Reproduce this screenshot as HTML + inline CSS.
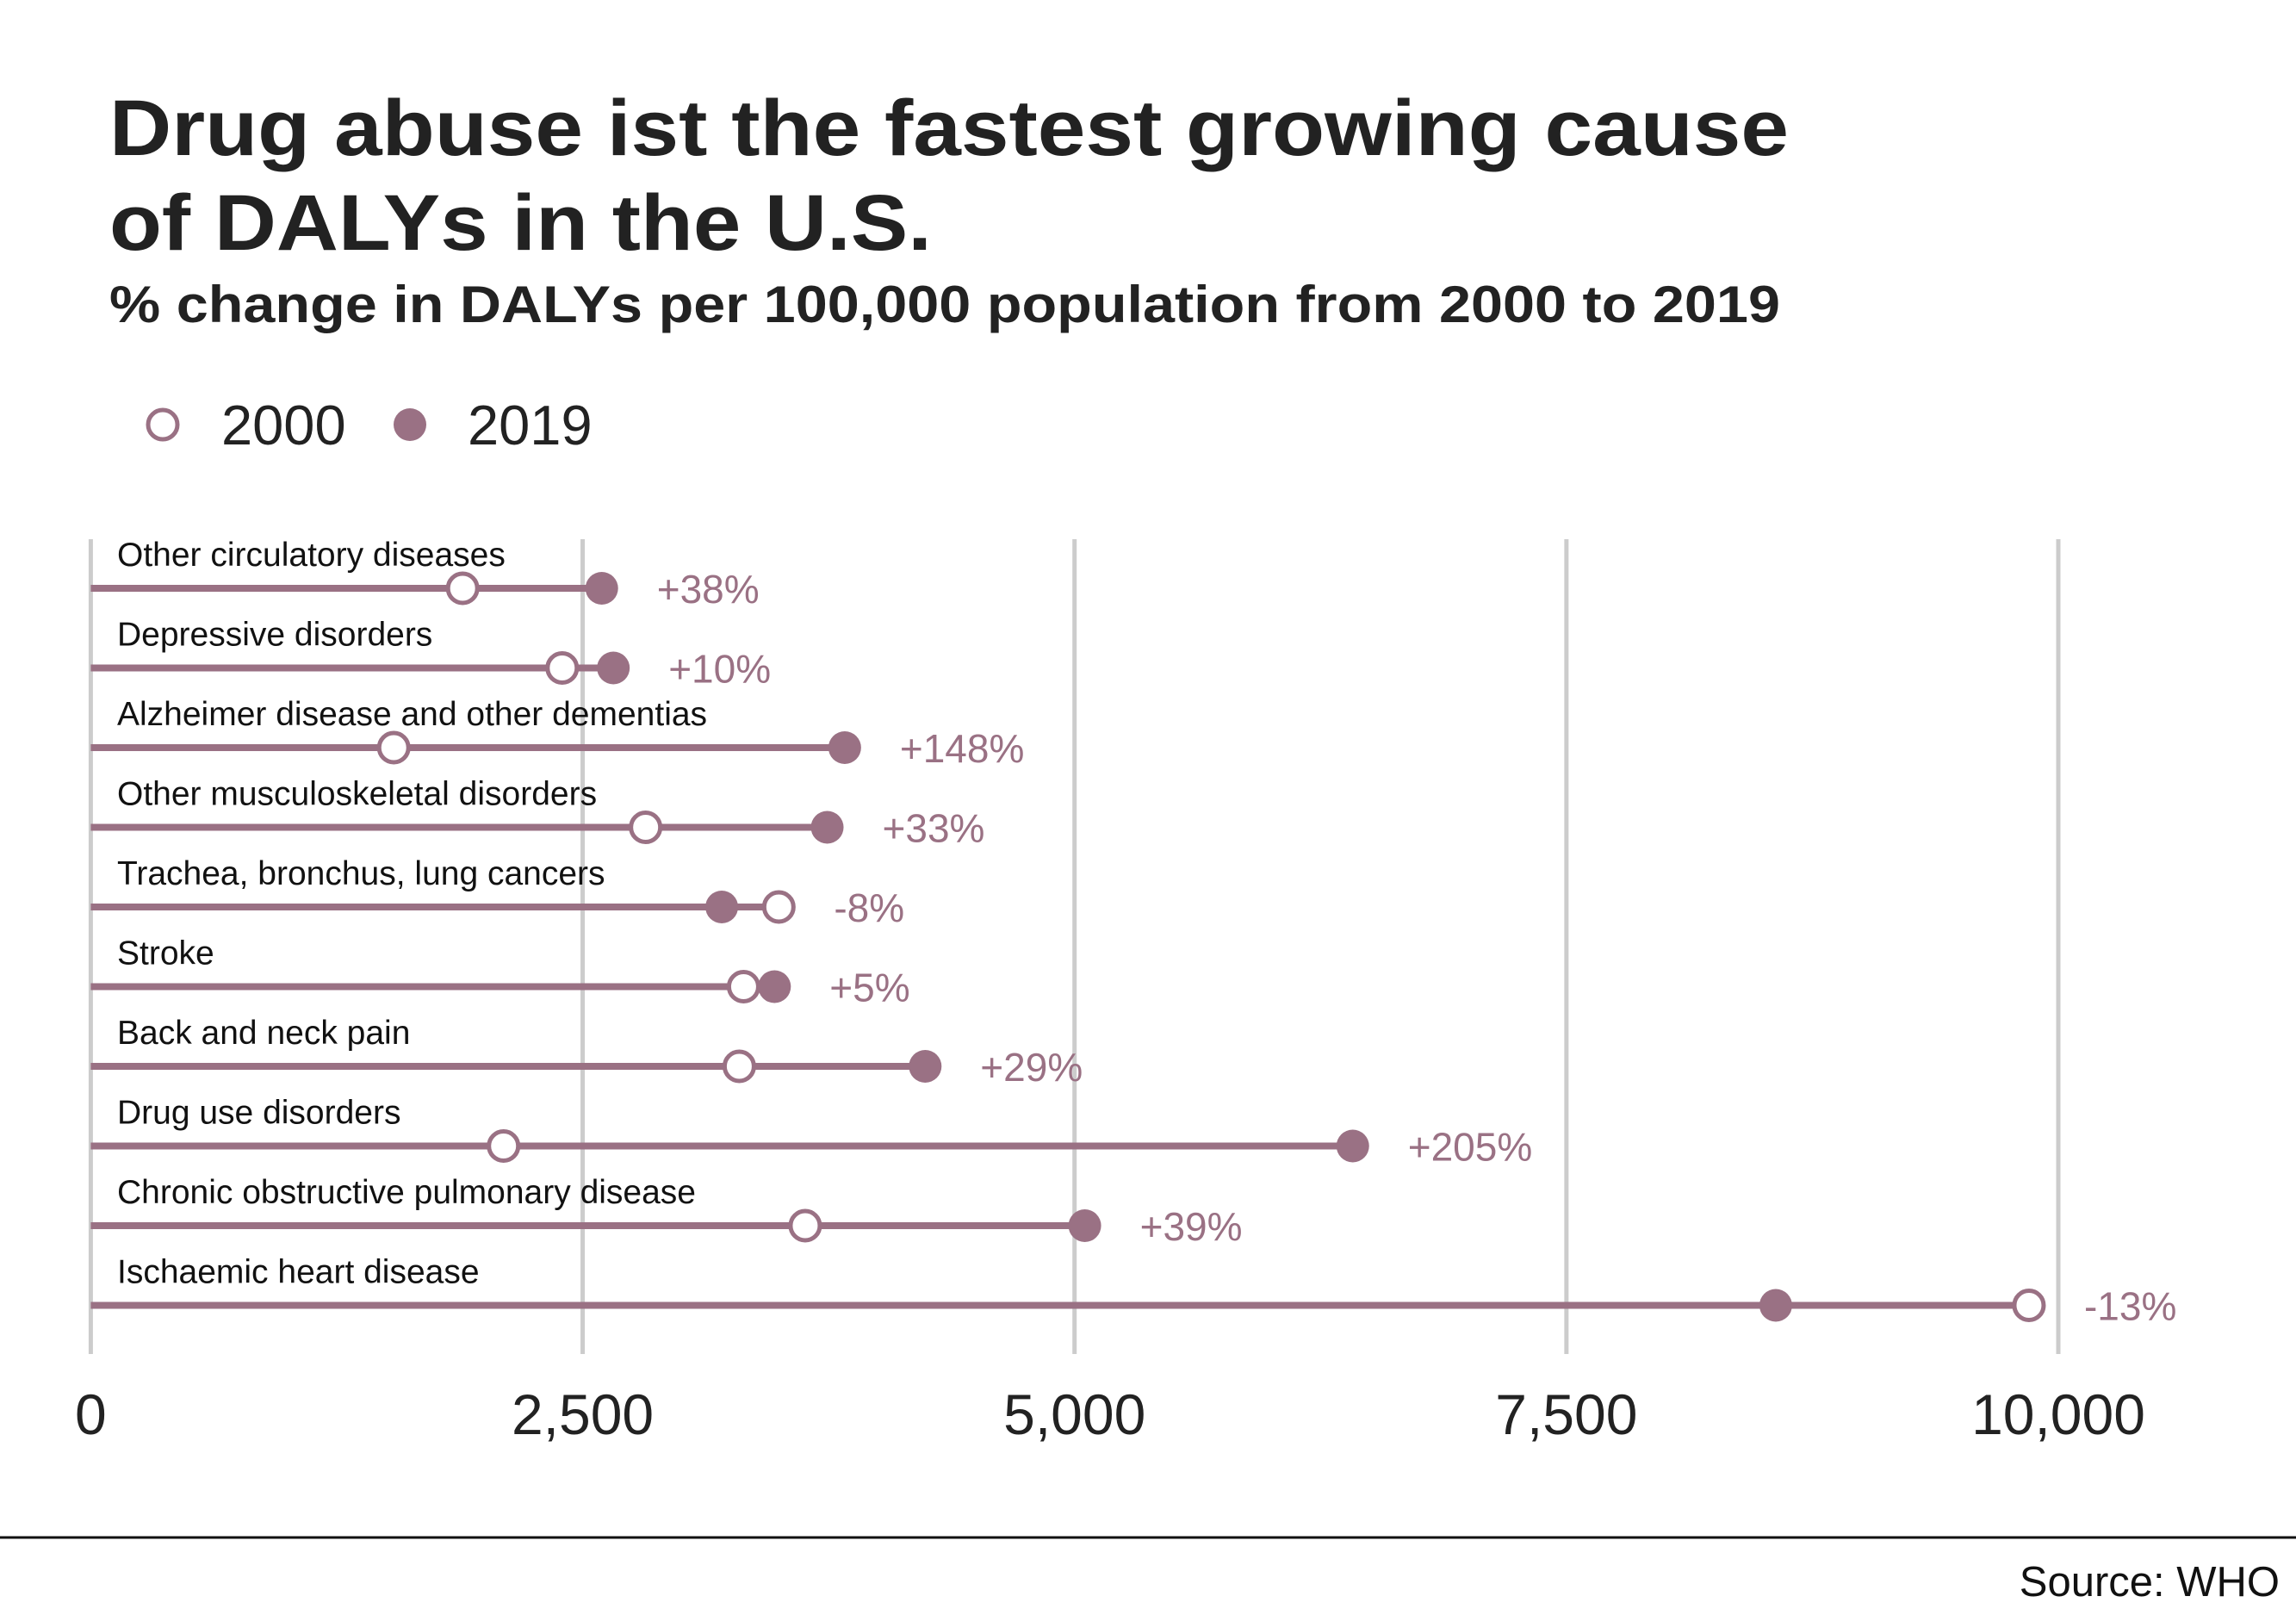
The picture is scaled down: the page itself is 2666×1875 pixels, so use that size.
<!DOCTYPE html>
<html><head><meta charset="utf-8"><style>
html,body{margin:0;padding:0;background:#fff}
svg{display:block;font-family:"Liberation Sans",Arial,sans-serif}
</style></head><body>
<svg id="chart" width="2666" height="1875" viewBox="0 0 2666 1875" xmlns="http://www.w3.org/2000/svg">
<text x="127" y="180" font-size="92" font-weight="bold" fill="#222" textLength="1950" lengthAdjust="spacingAndGlyphs">Drug abuse ist the fastest growing cause</text>
<text x="127" y="290" font-size="92" font-weight="bold" fill="#222" textLength="955" lengthAdjust="spacingAndGlyphs">of DALYs in the U.S.</text>
<text x="127" y="374" font-size="60" font-weight="bold" fill="#222" textLength="1940" lengthAdjust="spacingAndGlyphs">% change in DALYs per 100,000 population from 2000 to 2019</text>
<g>
<circle cx="189" cy="493" r="17" fill="#fff" stroke="#9a7184" stroke-width="5"/>
<text x="257" y="516" font-size="65" fill="#222">2000</text>
<circle cx="476" cy="493" r="19" fill="#9a7184"/>
<text x="543" y="516" font-size="65" fill="#222">2019</text>
</g>
<g id="grid"></g>
<g id="marks"></g>
<line x1="0" y1="1785" x2="2666" y2="1785" stroke="#111" stroke-width="3"/>
<text x="2647" y="1853" font-size="49" fill="#111" text-anchor="end">Source: WHO</text>
</svg>
<script>
const categories=["Other circulatory diseases","Depressive disorders","Alzheimer disease and other dementias","Other musculoskeletal disorders","Trachea, bronchus, lung cancers","Stroke","Back and neck pain","Drug use disorders","Chronic obstructive pulmonary disease","Ischaemic heart disease"];
const values2000=[1890,2396,1540,2820,3497,3318,3296,2098,3631,9851];
const values2019=[2597,2656,3832,3743,3207,3475,4241,6414,5052,8564];
const pctLabels=["+38%","+10%","+148%","+33%","-8%","+5%","+29%","+205%","+39%","-13%"];
const ticks=[0,2500,5000,7500,10000];
const tickLabels=["0","2,500","5,000","7,500","10,000"];
const NS="http://www.w3.org/2000/svg";
const x0=105.4,x1=2390;
const xs=v=>x0+(v/10000)*(x1-x0);
const ys=i=>683+i*92.5;
const C="#9a7184";
function mk(tag,attrs,parent,txt){const e=document.createElementNS(NS,tag);for(const k in attrs)e.setAttribute(k,attrs[k]);if(txt!==undefined)e.textContent=txt;parent.appendChild(e);return e;}
const grid=document.getElementById('grid'),marks=document.getElementById('marks');
ticks.forEach((t,i)=>{
  const l=mk('line',{x1:xs(t),x2:xs(t),y1:626,y2:1572,stroke:'#cccccc','stroke-width':5},grid);
  
  
  const tx=mk('text',{x:xs(t),y:1665,'font-size':66,fill:'#222','text-anchor':'middle'},grid,tickLabels[i]);
  
  
});
categories.forEach((c,i)=>{
  const y=ys(i),a=values2000[i],b=values2019[i],m=Math.max(a,b);
  const lb=mk('text',{x:136,y:y-26,'font-size':39,fill:'#111'},marks,c);
  
  
  const ln=mk('line',{x1:x0,x2:xs(m),y1:y,y2:y,stroke:C,'stroke-width':8},marks);
  
  
  const p1=mk('circle',{cx:xs(a),cy:y,r:17,fill:'#fff',stroke:C,'stroke-width':5},marks);
  
  
  const p2=mk('circle',{cx:xs(b),cy:y,r:19,fill:C},marks);
  
  
  const pt=mk('text',{x:xs(m)+64,y:y+17,'font-size':46,fill:C},marks,pctLabels[i]);
  
  
});
</script>
</body></html>
